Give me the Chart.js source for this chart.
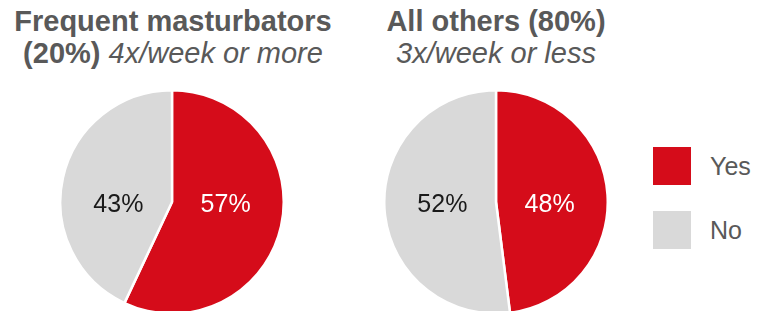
<!DOCTYPE html>
<html>
<head>
<meta charset="utf-8">
<script src="https://cdn.jsdelivr.net/npm/chart.js@4.4.0/dist/chart.umd.min.js"></script>
<style>
  body { margin: 0; width: 757px; height: 311px; overflow: hidden; background: #fff;
         font-family: "Liberation Sans", Arial, sans-serif; color: #595959; position: relative; }
  .title { position: absolute; top: 5px; width: 350px; text-align: center; font-size: 29px; line-height: 32px; }
  .title b { font-weight: bold; }
  .title i { font-style: italic; }
  .pie { position: absolute; top: 89px; width: 226px; height: 226px; }
  #legend { position: absolute; left: 653px; top: 147px; font-size: 25px; }
  .item { display: flex; align-items: center; height: 38px; margin-bottom: 26px; }
  .sw { width: 38px; height: 38px; margin-right: 19px; }
</style>
</head>
<body>
<div class="title" style="left:-2px"><b>Frequent masturbators</b><br><b>(20%)</b> <i>4x/week or more</i></div>
<div class="title" style="left:321px"><b>All others (80%)</b><br><i>3x/week or less</i></div>
<div class="pie" style="left:59px"><canvas id="pie1"></canvas></div>
<div class="pie" style="left:383px"><canvas id="pie2"></canvas></div>
<div id="legend"></div>
<script>
  // data
  var labels = ["Yes", "No"];
  var frequent = [57, 43];
  var others = [48, 52];
  var colors = ["#d50c1a", "#d9d9d9"];
  var labelColors = ["#ffffff", "#1a1a1a"];

  // percent labels, put to the side of the pie centre
  var pctLabels = {
    id: "pctLabels",
    afterDatasetsDraw: function (chart) {
      var ctx = chart.ctx;
      var meta = chart.getDatasetMeta(0);
      var data = chart.data.datasets[0].data;
      ctx.save();
      ctx.font = "25px 'Liberation Sans', Arial, sans-serif";
      ctx.textAlign = "center";
      ctx.textBaseline = "middle";
      meta.data.forEach(function (arc, i) {
        var p = arc.getProps(["x", "y", "startAngle", "endAngle", "outerRadius"], true);
        var mid = (p.startAngle + p.endAngle) / 2;
        var side = Math.cos(mid) >= 0 ? 1 : -1;
        ctx.fillStyle = labelColors[i];
        ctx.fillText(data[i] + "%", p.x + side * p.outerRadius * 0.48, p.y + 3);
      });
      ctx.restore();
    }
  };

  function makePie(id, values) {
    new Chart(document.getElementById(id), {
      type: "pie",
      data: {
        labels: labels,
        datasets: [{
          data: values,
          backgroundColor: colors,
          borderColor: "#ffffff",
          borderWidth: 2.5,
          hoverOffset: 0
        }]
      },
      options: {
        responsive: true,
        maintainAspectRatio: false,
        animation: false,
        layout: { padding: 0 },
        plugins: { legend: { display: false }, tooltip: { enabled: false } }
      },
      plugins: [pctLabels]
    });
  }

  makePie("pie1", frequent);
  makePie("pie2", others);

  var lg = document.getElementById("legend");
  labels.forEach(function (l, i) {
    var d = document.createElement("div");
    d.className = "item";
    d.innerHTML = '<span class="sw" style="background:' + colors[i] + '"></span><span>' + l + '</span>';
    lg.appendChild(d);
  });
</script>
</body>
</html>
